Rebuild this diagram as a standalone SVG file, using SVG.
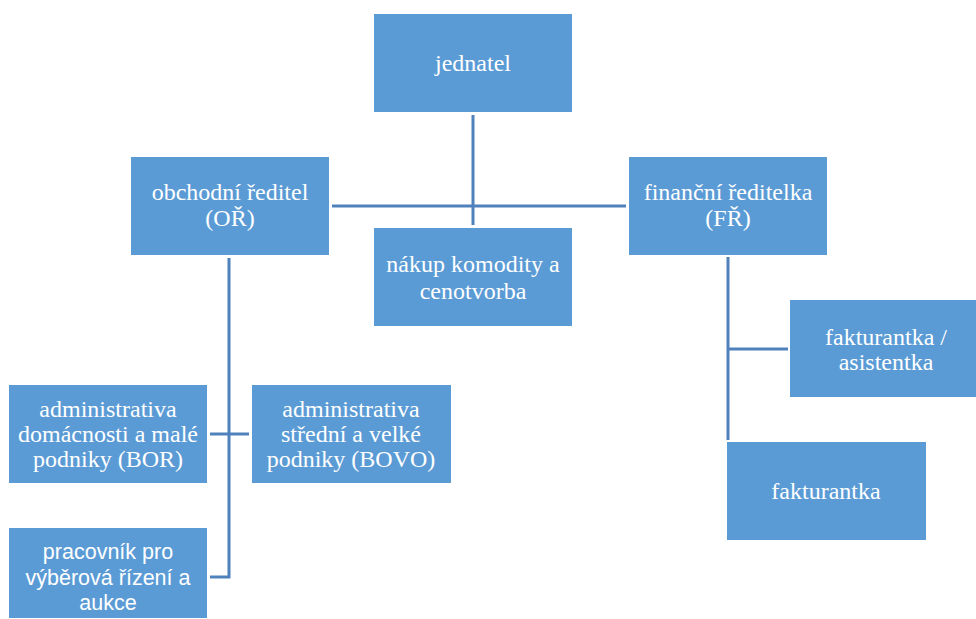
<svg xmlns="http://www.w3.org/2000/svg" width="976" height="619" viewBox="0 0 976 619">
<style>
.box{fill:#5B9BD5;}
.t{fill:#FFFFFF;font-family:'Liberation Serif','Times New Roman',serif;font-size:24px;text-anchor:middle;}
.s{fill:#FFFFFF;font-family:'Liberation Sans',Arial,sans-serif;font-size:21.5px;text-anchor:middle;}
.c{stroke:#4F81BD;stroke-width:3;fill:none;}
</style>
<rect width="976" height="619" fill="#FFFFFF"/>
<g id="connectors">
<line class="c" x1="473" y1="115" x2="473" y2="225"/>
<line class="c" x1="332" y1="206" x2="626" y2="206"/>
<polyline class="c" points="229,258 229,577 210,577"/>
<line class="c" x1="210" y1="434" x2="249" y2="434"/>
<line class="c" x1="728" y1="257" x2="728" y2="440"/>
<line class="c" x1="728" y1="349" x2="788" y2="349"/>
</g>
<g id="jednatel">
<rect class="box" x="374" y="14" width="198" height="98"/>
<text class="t" x="473" y="71">jednatel</text>
</g>
<g id="obchodni-reditel">
<rect class="box" x="131" y="157" width="198" height="98"/>
<text class="t" x="230" y="200">obchodní ředitel</text>
<text class="t" x="230" y="226">(OŘ)</text>
</g>
<g id="financni-reditelka">
<rect class="box" x="629" y="157" width="198" height="98"/>
<text class="t" x="728" y="200">finanční ředitelka</text>
<text class="t" x="728" y="226">(FŘ)</text>
</g>
<g id="nakup">
<rect class="box" x="374" y="228" width="198" height="98"/>
<text class="t" x="473" y="272">nákup komodity a</text>
<text class="t" x="473" y="299">cenotvorba</text>
</g>
<g id="bor">
<rect class="box" x="9" y="385" width="198" height="98"/>
<text class="t" x="108" y="417">administrativa</text>
<text class="t" x="108" y="442">domácnosti a malé</text>
<text class="t" x="108" y="467">podniky (BOR)</text>
</g>
<g id="bovo">
<rect class="box" x="252" y="385" width="199" height="98"/>
<text class="t" x="351" y="417">administrativa</text>
<text class="t" x="351" y="442">střední a velké</text>
<text class="t" x="351" y="467">podniky (BOVO)</text>
</g>
<g id="pracovnik">
<rect class="box" x="9" y="528" width="198" height="90"/>
<text class="s" x="108" y="559">pracovník pro</text>
<text class="s" x="108" y="585">výběrová řízení a</text>
<text class="s" x="108" y="610">aukce</text>
</g>
<g id="fakturantka-asistentka">
<rect class="box" x="790" y="300" width="186" height="97"/>
<text class="t" x="886" y="345">fakturantka /</text>
<text class="t" x="886" y="370">asistentka</text>
</g>
<g id="fakturantka">
<rect class="box" x="727" y="442" width="199" height="98"/>
<text class="t" x="826" y="499">fakturantka</text>
</g>
</svg>
